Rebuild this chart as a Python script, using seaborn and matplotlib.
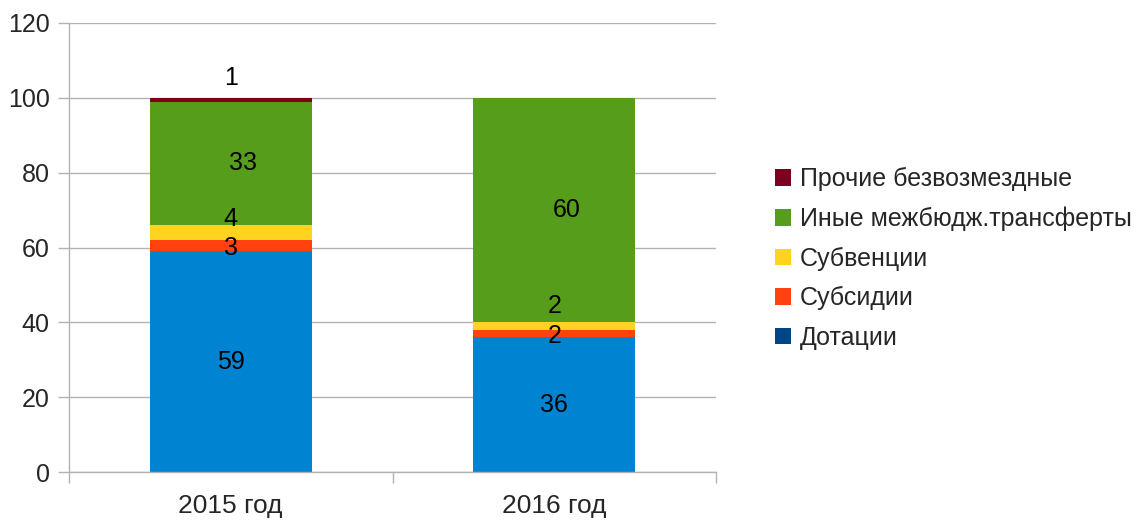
import matplotlib
matplotlib.use("Agg")
import matplotlib.pyplot as plt
import seaborn as sns
import numpy as np
import pandas as pd
from matplotlib.patches import Patch

# ---- data ----
categories = ["2015 год", "2016 год"]
series_names = ["Дотации", "Субсидии", "Субвенции", "Иные межбюдж.трансферты", "Прочие безвозмездные"]
dotacii = [59, 36]
subsidii = [3, 2]
subvencii = [4, 2]
inye = [33, 60]
prochie = [1, 0]
y_ticks = [0, 20, 40, 60, 80, 100, 120]

# ---- style ----
bar_colors = ["#0084d1", "#ff420e", "#ffd320", "#579d1c", "#7e0021"]
legend_colors = ["#004586", "#ff420e", "#ffd320", "#579d1c", "#7e0021"]
# label offsets in pixels (dx, dy) per series per category, to avoid overlap
label_offsets = [
    [(0, 0), (0, 0)],
    [(0, -2), (0, -2)],
    [(0, 14), (0, 20)],
    [(12, 0), (12, 0)],
    [(0, 22), (0, 0)],
]

sns.set_theme(style="white")
plt.rcParams["font.family"] = ["Liberation Sans", "DejaVu Sans"]
FS = 18

fig = plt.figure(figsize=(11.37, 5.20), dpi=100)
ax = fig.add_axes([69 / 1137, 1 - 472 / 520, (716 - 69) / 1137, (472 - 23) / 520])

series = [dotacii, subsidii, subvencii, inye, prochie]
cum = np.cumsum(np.array(series, dtype=float), axis=0)
bottoms = np.vstack([np.zeros(len(categories)), cum[:-1]])

# Draw cumulative bars from top layer down so each visible band = one series
for i in range(len(series) - 1, -1, -1):
    df = pd.DataFrame({"cat": categories, "val": cum[i]})
    sns.barplot(data=df, x="cat", y="val", color=bar_colors[i], width=0.5,
                saturation=1, ax=ax, zorder=2, linewidth=0, edgecolor="none")

# Data labels
for i, vals in enumerate(series):
    for j, v in enumerate(vals):
        if v == 0:
            continue
        center = bottoms[i][j] + v / 2
        dx, dy = label_offsets[i][j]
        ax.annotate(str(v), xy=(j, center), xytext=(dx * 0.72, dy * 0.72),
                    textcoords="offset points", ha="center", va="center",
                    fontsize=FS, color="black", zorder=5)

ax.set_xlim(-0.5, 1.5)
ax.set_ylim(0, 120)
ax.set_yticks(y_ticks)
ax.set_xlabel("")
ax.set_ylabel("")
ax.yaxis.grid(True, color="#b3b3b3", linewidth=1)
ax.set_axisbelow(True)
for s in ["top", "right"]:
    ax.spines[s].set_visible(False)
for s in ["left", "bottom"]:
    ax.spines[s].set_color("#b3b3b3")
    ax.spines[s].set_linewidth(1)

ax.tick_params(axis="y", which="major", length=8, color="#b3b3b3", width=1,
               labelsize=FS, pad=6, left=True)
ax.set_xticks([-0.5, 0.5, 1.5], minor=True)
ax.tick_params(axis="x", which="minor", length=8, color="#b3b3b3", width=1, bottom=True)
ax.tick_params(axis="x", which="major", length=0, labelsize=19, pad=16)

handles = [Patch(facecolor=legend_colors[i], edgecolor="none", label=series_names[i])
           for i in range(len(series_names) - 1, -1, -1)]
fig.legend(handles=handles, loc="center left", bbox_to_anchor=(0.662, 0.503),
           frameon=False, fontsize=FS, handlelength=0.65, handleheight=0.65,
           handletextpad=0.35, labelspacing=0.62)

fig.savefig("out.png", dpi=100)
